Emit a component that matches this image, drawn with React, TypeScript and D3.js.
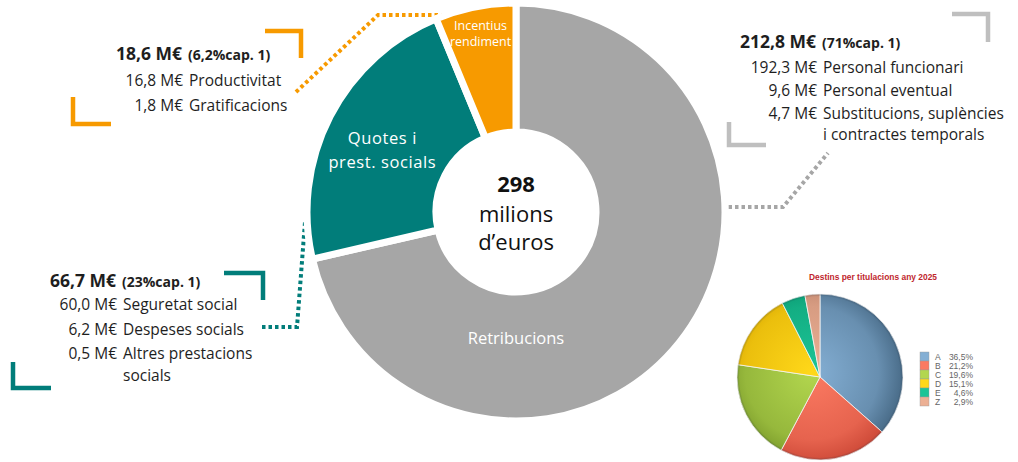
import React from 'react';
import * as d3 from 'd3';

// capítol 1 breakdown (M€)
const chapterNames = ['Retribucions', 'Quotes i prest. socials', 'Incentius rendiment'];
const chapterValues = [212.8, 66.7, 18.6];
const chapterColors = ['#a6a6a6', '#017d7a', '#f79a00'];

const retribValues = ['192,3 M€', '9,6 M€', '4,7 M€'];
const retribLabels = ['Personal funcionari', 'Personal eventual', 'Substitucions, suplències', 'i contractes temporals'];

const quotesValues = ['60,0 M€', '6,2 M€', '0,5 M€'];
const quotesLabels = ['Seguretat  social', 'Despeses socials', 'Altres prestacions', 'socials'];

const incentValues = ['16,8 M€', '1,8 M€'];
const incentLabels = ['Productivitat', 'Gratificacions'];

// inset pie: destins per titulació
const groups = ['A', 'B', 'C', 'D', 'E', 'Z'];
const groupShares = [36.5, 21.2, 19.6, 15.1, 4.6, 2.9];
const groupShareLabels = ['36,5%', '21,2%', '19,6%', '15,1%', '4,6%', '2,9%'];
const groupColors = [
  ['#84afd4', '#4c6f8c'],
  ['#fb7a62', '#d04c3a'],
  ['#b2d64e', '#7a9a2a'],
  ['#ffd81a', '#d6a600'],
  ['#1cc496', '#0a9870'],
  ['#ecb094', '#c28870'],
];

const FONT = '"Open Sans", Roboto, sans-serif';

function Bracket({x1, y1, x2, y2, color, corner}: {x1: number; y1: number; x2: number; y2: number; color: string; corner: 'tr' | 'bl'}) {
  const d = corner === 'tr'
    ? `M${x1},${y1} L${x2},${y1} L${x2},${y2}`
    : `M${x1},${y1} L${x1},${y2} L${x2},${y2}`;
  return <path d={d} fill="none" stroke={color} strokeWidth={4.5} />;
}

function Block({x, y0, title, sub, values, labels, baselines}: {
  x: number; y0: number; title: string; sub: string; values: string[]; labels: string[]; baselines: number[];
}) {
  return (
    <g fontFamily={FONT} fill="#1e1e1e" style={{whiteSpace: 'pre'}}>
      <text x={x} y={y0} textAnchor="end" fontWeight={700} fontSize={17.5}>{title}</text>
      <text x={x + 6} y={y0} fontWeight={700} fontSize={14}>{sub}</text>
      {labels.map((l, i) => (
        <g key={i}>
          {values[i] && <text x={x + 1} y={baselines[i]} textAnchor="end" fontSize={15.5}>{values[i]}</text>}
          <text x={x + 7} y={baselines[i]} fontSize={15.5}>{l}</text>
        </g>
      ))}
    </g>
  );
}

export default function App() {
  const cx = 516, cy = 212;
  const pie = d3.pie<number>().sort(null).value((d) => d)(chapterValues);
  const arc = d3.arc<d3.PieArcDatum<number>>().innerRadius(80).outerRadius(209);
  const labelArc = (r: number) => d3.arc<d3.PieArcDatum<number>>().innerRadius(r).outerRadius(r);

  const qPos = labelArc(147).centroid(pie[1]);
  const iPos = labelArc(182).centroid(pie[2]);

  // inset pie
  const px = 820, py = 377, pr = 83;
  const miniPie = d3.pie<number>().sort(null).value((d) => d)(groupShares);
  const miniArc = d3.arc<d3.PieArcDatum<number>>().innerRadius(0).outerRadius(pr);
  const legendY = d3.scaleBand<string>().domain(groups).range([352, 406]);

  return (
    <svg width={1018} height={462} style={{position: 'absolute', left: 0, top: 0, background: '#fff'}}>
      <defs>
        <clipPath id="clipIncent">
          <path d={arc(pie[2]) || ''} transform={`translate(${cx},${cy})`} />
        </clipPath>
        {groupColors.map((c, i) => (
          <radialGradient key={i} id={`mg${i}`} gradientUnits="userSpaceOnUse" cx={-8} cy={-4} r={pr + 6}>
            <stop offset="0" stopColor={c[0]} />
            <stop offset="0.75" stopColor={d3.interpolateRgb(c[0], c[1])(0.5)} />
            <stop offset="1" stopColor={c[1]} />
          </radialGradient>
        ))}
      </defs>

      {/* connectors */}
      <polyline points="296,92 378,15 452,15" fill="none" stroke="#f79a00" strokeWidth={4} strokeDasharray="3.5,3" />
      <polyline points="262,327 297,327 305,222" fill="none" stroke="#017d7a" strokeWidth={4} strokeDasharray="3.5,3" />
      <polyline points="722,207 783,207 828,153" fill="none" stroke="#a6a6a6" strokeWidth={4} strokeDasharray="3.5,3" />

      {/* donut */}
      <g transform={`translate(${cx},${cy})`}>
        {pie.map((p, i) => (
          <path key={i} d={arc(p) || ''} fill={chapterColors[i]} stroke="#fff" strokeWidth={7} strokeLinejoin="miter" />
        ))}
        <circle r={82} fill="#fff" />
        <g fontFamily={FONT} textAnchor="middle" fill="#111">
          <text y={-20} fontWeight={700} fontSize={22}>298</text>
          <text y={10} fontSize={22}>milions</text>
          <text y={38} fontSize={22}>d’euros</text>
        </g>
        <g fontFamily={FONT} textAnchor="middle" fill="#fff">
          <text y={132} fontSize={16.5}>{chapterNames[0]}</text>
          <text x={qPos[0] - 3} y={qPos[1] - 1} fontSize={16.5} letterSpacing={0.6}>Quotes i</text>
          <text x={qPos[0] - 3} y={qPos[1] + 23} fontSize={16.5} letterSpacing={0.6}>prest. socials</text>
        </g>
      </g>
      <g clipPath="url(#clipIncent)" fontFamily={FONT} textAnchor="middle" fill="#fff" fontSize={12.5}>
        <text x={cx + iPos[0]} y={cy + iPos[1] - 3}>Incentius</text>
        <text x={cx + iPos[0]} y={cy + iPos[1] + 13}>rendiment</text>
      </g>

      {/* brackets */}
      <Bracket x1={265} y1={31} x2={301} y2={58} color="#f79a00" corner="tr" />
      <Bracket x1={73} y1={97} x2={111} y2={124} color="#f79a00" corner="bl" />
      <Bracket x1={952} y1={14} x2={988} y2={42} color="#bfbfbf" corner="tr" />
      <Bracket x1={729} y1={122} x2={766} y2={145} color="#bfbfbf" corner="bl" />
      <Bracket x1={224} y1={273} x2={263} y2={300} color="#017d7a" corner="tr" />
      <Bracket x1={13} y1={362} x2={51} y2={388} color="#017d7a" corner="bl" />

      {/* text blocks */}
      <Block x={182} y0={60} title="18,6 M€" sub="(6,2%cap. 1)" values={incentValues} labels={incentLabels} baselines={[86, 111]} />
      <Block x={816} y0={48} title="212,8 M€" sub="(71%cap. 1)" values={retribValues} labels={retribLabels} baselines={[73, 96, 119, 140]} />
      <Block x={116} y0={287} title="66,7 M€" sub="(23%cap. 1)" values={quotesValues} labels={quotesLabels} baselines={[310, 335, 359, 381]} />

      {/* inset pie */}
      <text x={873} y={280} textAnchor="middle" fontFamily='"Liberation Sans", Arial, sans-serif' fontWeight={700}
        fontSize={9} fill="#c0262d" textLength={128} lengthAdjust="spacingAndGlyphs">Destins per titulacions any 2025</text>
      <g transform={`translate(${px},${py})`}>
        {miniPie.map((p, i) => (
          <path key={i} d={miniArc(p) || ''} fill={`url(#mg${i})`} stroke="#f4f4f4" strokeWidth={0.8} />
        ))}
        <circle r={pr - 1} fill="none" stroke="#2e3e4a" strokeOpacity={0.15} strokeWidth={2} />
      </g>
      <g fontFamily='"Liberation Sans", Arial, sans-serif' fontSize={8.5} fill="#666">
        {groups.map((g, i) => {
          const y = legendY(g)!;
          const h = legendY.bandwidth();
          return (
            <g key={g}>
              <rect x={920} y={y} width={9} height={h} fill={groupColors[i][0]} stroke="#999" strokeWidth={0.4} />
              <text x={935} y={y + h / 2 + 3}>{g}</text>
              <text x={973} y={y + h / 2 + 3} textAnchor="end">{groupShareLabels[i]}</text>
            </g>
          );
        })}
      </g>
    </svg>
  );
}
